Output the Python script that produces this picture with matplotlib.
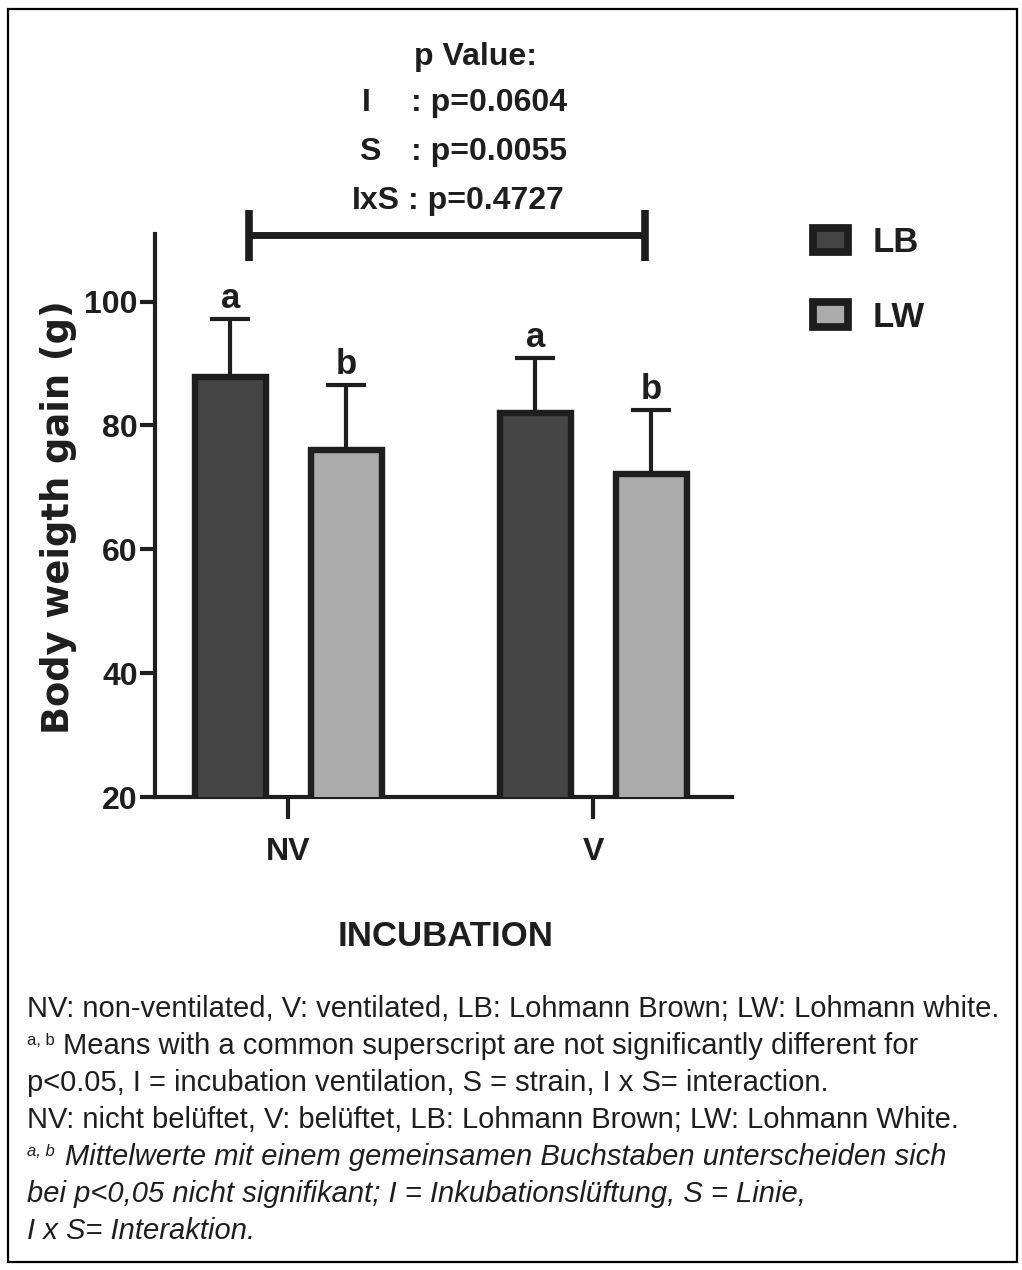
import matplotlib
matplotlib.use("Agg")
import matplotlib.pyplot as plt
from matplotlib import font_manager
import numpy as np

# ---------------- data ----------------
groups = ["NV", "V"]
strains = ["LB", "LW"]
lb_means = [87.8, 82.0]
lw_means = [76.0, 72.2]
lb_err = [9.3, 8.9]
lw_err = [10.5, 10.3]
lb_letters = ["a", "a"]
lw_letters = ["b", "b"]
yticks = [20, 40, 60, 80, 100]
p_terms = ["I", "S", "IxS"]
p_values = [": p=0.0604", ": p=0.0055", ": p=0.4727"]
caption_lines = [
    ("", "NV: non-ventilated, V: ventilated, LB: Lohmann Brown; LW: Lohmann white.", "normal"),
    ("a, b", "Means with a common superscript are not significantly different for", "normal"),
    ("", "p<0.05, I = incubation ventilation, S = strain, I x S= interaction.", "normal"),
    ("", "NV: nicht belüftet, V: belüftet, LB: Lohmann Brown; LW: Lohmann White.", "normal"),
    ("a, b", "Mittelwerte mit einem gemeinsamen Buchstaben unterscheiden sich", "italic"),
    ("", "bei p<0,05 nicht signifikant; I = Inkubationslüftung, S = Linie,", "italic"),
    ("", "I x S= Interaktion.", "italic"),
]

# ---------------- fonts ----------------
names = {f.name for f in font_manager.fontManager.ttflist}
if "Liberation Sans Narrow" in names:
    NARROW = "Liberation Sans Narrow"
else:
    NARROW = "Liberation Sans"
plt.rcParams["font.family"] = [NARROW, "DejaVu Sans"]

W, H = 1022, 1270
DARK = "#1e1e1e"


def fx(px):
    return px / W


def fy(py):
    return 1 - py / H


fig = plt.figure(figsize=(W / 100, H / 100), dpi=100)
fig.patch.set_facecolor("white")

# outer border
fig.patches.append(plt.Rectangle((fx(8), fy(1262)), fx(1017) - fx(8), fy(9) - fy(1262),
                                 transform=fig.transFigure, fill=False,
                                 edgecolor="black", linewidth=1.6))

ax = fig.add_axes([fx(155), fy(797), fx(732) - fx(155), fy(234) - fy(797)])
ax.set_facecolor("none")

x = np.arange(len(groups))
off = 0.19
width = 0.233
bars_lb = ax.bar(x - off, lb_means, width, color="#454545", edgecolor=DARK,
                 linewidth=4.6, label=strains[0], zorder=3)
bars_lw = ax.bar(x + off, lw_means, width, color="#ababab", edgecolor=DARK,
                 linewidth=4.6, label=strains[1], zorder=3)
for xs, m, e in [(x - off, lb_means, lb_err), (x + off, lw_means, lw_err)]:
    ax.errorbar(xs, m, yerr=[np.zeros(len(m)), e], fmt="none", ecolor=DARK,
                elinewidth=3.0, capsize=14.5, capthick=3.0, zorder=2)

for xs, m, e, letters in [(x - off, lb_means, lb_err, lb_letters),
                          (x + off, lw_means, lw_err, lw_letters)]:
    for xi, mi, ei, t in zip(xs, m, e, letters):
        ax.annotate(t, (xi, mi + ei), xytext=(0, 8), textcoords="offset points",
                    ha="center", va="baseline", fontsize=25, fontweight="bold",
                    color=DARK)

ax.set_xlim(-0.437, 1.455)
ax.set_ylim(20, 110.9)
ax.set_yticks(yticks)
ax.set_xticks(x)
ax.set_xticklabels(groups)
for s in ["top", "right"]:
    ax.spines[s].set_visible(False)
for s in ["left", "bottom"]:
    ax.spines[s].set_linewidth(3.0)
    ax.spines[s].set_color(DARK)
ax.tick_params(axis="y", length=11, width=3.0, color=DARK, pad=1.5, labelsize=23)
ax.tick_params(axis="x", length=16, width=3.0, color=DARK, pad=13, labelsize=23)
for lbl in ax.get_xticklabels() + ax.get_yticklabels():
    lbl.set_fontweight("bold")
    lbl.set_color(DARK)

# significance bracket over the whole chart
ytop = 110.7
ax.plot([-0.128, 1.17], [ytop, ytop], color=DARK, lw=5, clip_on=False,
        solid_capstyle="butt")
for xb in [-0.128, 1.17]:
    ax.plot([xb, xb], [106.6, 114.8], color=DARK, lw=5.5, clip_on=False,
            solid_capstyle="butt")

# axis labels
fig.text(fx(446), fy(937), "INCUBATION", ha="center", va="center", fontsize=25,
         fontweight="bold", color=DARK)
fig.text(fx(59), fy(517), "Body weigth gain (g)", ha="center", va="center",
         rotation=90, fontsize=26.5, fontweight="bold", family="DejaVu Sans",
         color=DARK)

# p-value block
fig.text(fx(476), fy(65), "p Value:", ha="center", va="baseline", fontsize=23,
         fontweight="bold", color=DARK)
p_rows_y = [111, 160, 209]
p_term_x = [366, 370, 376]
p_val_x = [411, 411, 408]
for term, val, yy, tx, vx in zip(p_terms, p_values, p_rows_y, p_term_x, p_val_x):
    fig.text(fx(tx), fy(yy), term, ha="center", va="baseline", fontsize=23,
             fontweight="bold", color=DARK)
    fig.text(fx(vx), fy(yy), val, ha="left", va="baseline", fontsize=23,
             fontweight="bold", color=DARK)

# legend
leg = ax.legend(handles=[bars_lb, bars_lw], labels=strains, loc="center left",
                bbox_to_anchor=(fx(813), fy(280)), bbox_transform=fig.transFigure,
                frameon=False, borderpad=0, borderaxespad=0,
                handlelength=1.0, handleheight=0.69, handletextpad=0.72,
                labelspacing=1.19,
                prop=dict(size=25, weight="bold"))
for t in leg.get_texts():
    t.set_color(DARK)
for h in leg.legend_handles:
    h.set_linewidth(5.6)

# caption
cap_base = [1017, 1054, 1091, 1128, 1165, 1202, 1239]
for (sup, line, style), yy in zip(caption_lines, cap_base):
    x0 = 27
    if sup:
        fig.text(fx(27), fy(yy - 9), sup, ha="left", va="baseline", fontsize=12,
                 style=style, color=DARK)
        x0 = 63 if style == "normal" else 65
    fig.text(fx(x0), fy(yy), line, ha="left", va="baseline", fontsize=21.0,
             style=style, color=DARK)

fig.savefig("out.png", dpi=100, facecolor="white")
